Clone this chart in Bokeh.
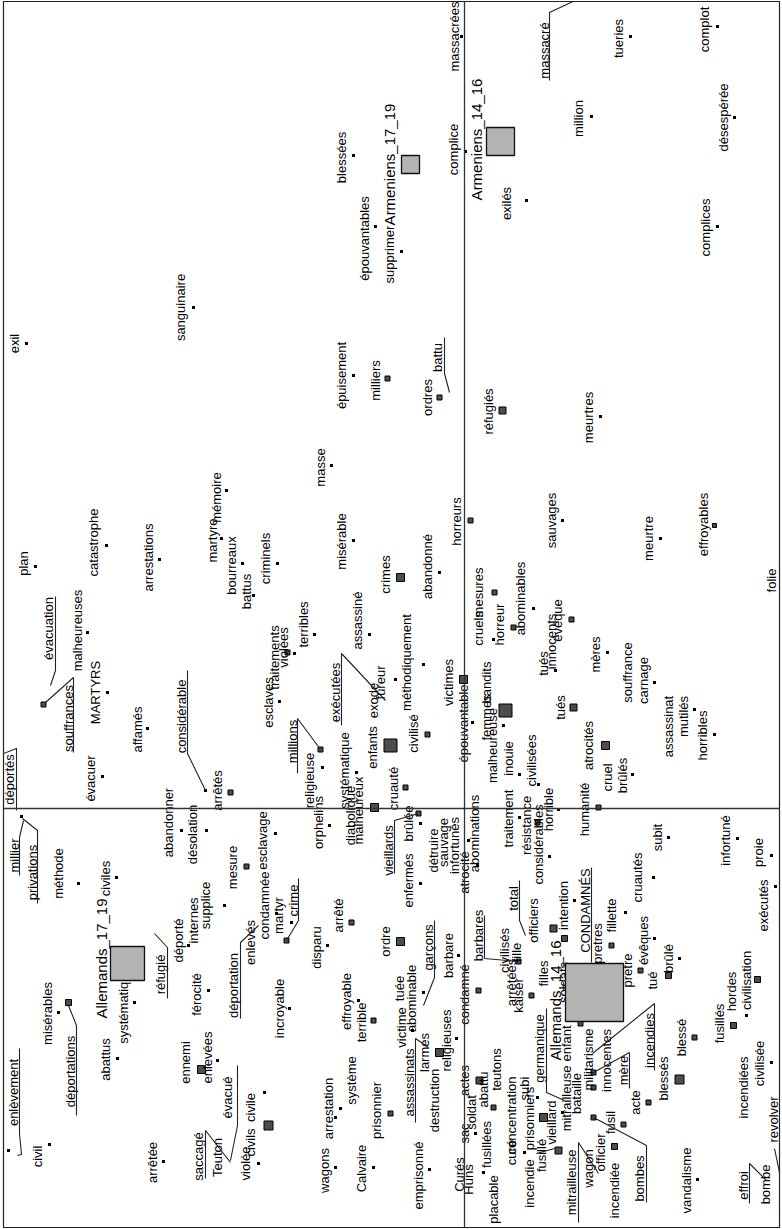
import math
from bokeh.plotting import figure
from bokeh.models import Range1d, Span, ColumnDataSource
from bokeh.core.properties import value
from bokeh.embed import file_html
from bokeh.resources import INLINE

# ---- word points of the factor map (rotated layout: read upward) ----
mots = [
    "massacrées", "blessées", "épouvantables", "supprimer", "complice", "exilés", "massacré", "tueries", "complot", "million",
    "désespérée", "complices", "exil", "sanguinaire", "plan", "catastrophe", "arrestations", "mémoire", "martyre", "bourreaux",
    "battus", "criminels", "épuisement", "milliers", "battu", "ordres", "masse", "misérable", "crimes", "abandonné",
    "horreurs", "réfugiés", "meurtres", "sauvages", "meurtre", "effroyables", "folie", "abominables", "mesures", "cruels",
    "horreur", "évêque", "innocents", "tués", "mères", "tués", "souffrance", "carnage", "assassinat", "mutilés",
    "horribles", "atrocités", "cruel", "brûlés", "civilisées", "humanité", "horrible", "évacuation", "souffrances", "malheureuses",
    "MARTYRS", "affamés", "évacuer", "considérable", "arrêtés", "déportés", "esclaves", "traitements", "violées", "terribles",
    "assassiné", "exécutées", "fureur", "exode", "méthodiquement", "millions", "religieuse", "systématique", "enfants", "civilisé",
    "cruauté", "diabolique", "malheureux", "orphelins", "vieillards", "brûlée", "enfermés", "détruire", "sauvage", "infortunés",
    "atrocité", "abominations", "victimes", "épouvantable", "femmes", "bandits", "malheureuse", "inouie", "traitement", "millier",
    "privations", "méthode", "civiles", "abandonner", "désolation", "mesure", "esclavage", "internes", "supplice", "condamnée",
    "martyr", "crime", "enlevés", "déportation", "déporté", "férocité", "réfugié", "systématique", "abattus", "misérables",
    "déportations", "enlèvement", "civil", "arrêtée", "ennemi", "enlevées", "évacué", "saccagé", "Teuton", "civile",
    "civils", "violée", "incroyable", "disparu", "arrêté", "ordre", "effroyable", "terrible", "garçons", "tuée",
    "abominable", "victime", "barbare", "condamné", "larmes", "assassinats", "religieuses", "destruction", "système", "arrestation",
    "wagons", "Calvaire", "prisonnier", "emprisonné", "actes", "sac", "Curés", "Huns", "soldat", "abattu",
    "teutons", "concentration", "fusillées", "curé", "placable", "arrêtées", "kaiser", "civilisés", "barbares", "total",
    "fille", "officiers", "considérables", "résistance", "intention", "CONDAMNÉS", "fillette", "pretres", "cruautés", "subit",
    "infortuné", "proie", "exécutés", "évêques", "brûlé", "pretre", "tué", "filles", "soldats", "germanique",
    "enfant", "militarisme", "mitrailleuse", "vieillard", "prisonniers", "subi", "bataille", "innocentes", "incendies", "mère",
    "acte", "blessés", "blessé", "fusillés", "hordes", "civilisation", "incendiées", "civilisée", "revolver", "vandalisme",
    "effroi", "bombe", "bombes", "fusil", "officier", "incendiée", "wagon", "mitrailleuse", "incendie", "fusillé",
]

pt_x = [
    461, 353, 375, 401, 465, 526, 600, 630, 717, 591,
    734, 717, 26, 193, 35, 106, 159, 226, 221, 242,
    253, 277, 353, 387, 449, 439, 331, 353, 400, 439,
    470, 502, 600, 562, 660, 714, 785, 533, 494, 493,
    513, 571, 563, 555, 607, 573, 654, 654, 694, 694,
    714, 605, 632, 632, 538, 598, 558, 43, 43, 87,
    107, 147, 102, 205, 230, -10, 279, 287, 294, 314,
    369, 385, 395, 395, 423, 320, 322, 356, 390, 427,
    405, 374, 374, 329, 418, 420, 420, 477, 477, 477,
    477, 468, 463, 472, 505, 505, 503, 519, 519, 21,
    21, 78, 116, 181, 206, 246, 275, 206, 224, 276,
    291, 286, 258, 258, 188, 208, 154, 134, 117, 58,
    68, 8, 49, 163, 201, 217, 230, 230, 230, 264,
    268, 258, 289, 327, 351, 400, 358, 373, 423, 411,
    423, 412, 458, 478, 439, 428, 456, 446, 340, 335,
    335, 373, 390, 429, 475, 475, 470, 483, 475, 479,
    493, 493, 493, 511, 483, 518, 518, 518, 518, 525,
    525, 553, 549, 537, 574, 597, 625, 611, 653, 668,
    737, 771, 775, 654, 679, 640, 668, 531, 564, 564,
    580, 600, 562, 543, 537, 537, 593, 618, 592, 593,
    648, 679, 694, 733, 757, 746, 755, 771, 779, 697,
    766, 766, 593, 623, 614, 626, 598, 578, 524, 558,
]

pt_y = [
    36, 155, 226, 251, 151, 200, -12, 36, 26, 116,
    117, 226, 343, 307, 566, 545, 559, 490, 538, 563,
    595, 563, 375, 378, 392, 397, 465, 540, 577, 572,
    520, 410, 416, 520, 538, 525, 580, 608, 592, 639,
    627, 619, 645, 670, 652, 707, 682, 682, 709, 709,
    734, 745, 774, 774, 784, 807, 809, 704, 704, 632,
    692, 728, 776, 790, 792, 756, 701, 652, 653, 634,
    634, 700, 679, 679, 664, 749, 767, 772, 745, 734,
    787, 807, 807, 825, 813, 823, 883, 865, 865, 865,
    865, 840, 679, 722, 710, 710, 725, 774, 817, 816,
    816, 883, 877, 830, 830, 866, 833, 925, 905, 913,
    922, 940, 925, 925, 945, 990, 933, 1002, 1058, 1012,
    1002, 1150, 1144, 1161, 1069, 1060, 1162, 1162, 1162, 1092,
    1125, 1163, 1008, 945, 922, 941, 1000, 1020, 1005, 988,
    992, 1030, 955, 990, 1052, 1047, 1038, 1100, 1108, 1117,
    1167, 1167, 1113, 1169, 1080, 1133, 1174, 1172, 1133, 1080,
    1107, 1107, 1107, 1152, 1172, 961, 961, 961, 961, 935,
    935, 928, 856, 822, 900, 962, 912, 945, 877, 837,
    838, 855, 886, 938, 958, 970, 975, 995, 938, 1100,
    1023, 1060, 1112, 1117, 1097, 1097, 1087, 1060, 1053, 1072,
    1102, 1079, 1037, 1025, 979, 1015, 1087, 1062, 1172, 1179,
    1180, 1180, 1117, 1124, 1146, 1190, 1173, 1142, 1152, 1150,
]

# weight of each word (0 = point hidden under another one)
poids = [
    3, 3, 3, 3, 3, 3, 0, 3, 3, 3,
    3, 3, 3, 3, 3, 3, 3, 3, 3, 3,
    3, 3, 3, 5, 0, 5, 3, 3, 8, 3,
    5, 7, 3, 3, 3, 4, 3, 3, 5, 3,
    5, 5, 0, 3, 3, 7, 0, 3, 0, 3,
    3, 8, 0, 3, 3, 5, 3, 0, 5, 3,
    3, 3, 3, 3, 5, 0, 3, 5, 3, 3,
    3, 0, 3, 0, 3, 5, 3, 3, 13, 5,
    5, 8, 0, 3, 5, 3, 3, 0, 0, 0,
    3, 3, 8, 3, 13, 0, 3, 3, 3, 0,
    3, 3, 3, 3, 3, 5, 3, 0, 3, 3,
    3, 5, 0, 0, 3, 3, 0, 3, 3, 3,
    6, 3, 3, 3, 8, 3, 0, 0, 0, 3,
    9, 3, 3, 3, 5, 8, 3, 5, 0, 0,
    3, 3, 3, 5, 8, 0, 3, 0, 3, 3,
    3, 3, 5, 3, 0, 0, 0, 0, 3, 7,
    0, 0, 5, 0, 3, 0, 0, 0, 5, 0,
    0, 7, 3, 5, 3, 0, 3, 5, 3, 3,
    3, 3, 3, 3, 3, 5, 6, 5, 6, 0,
    5, 0, 3, 8, 3, 0, 5, 0, 0, 5,
    5, 9, 5, 6, 6, 3, 0, 3, 0, 3,
    0, 0, 5, 5, 6, 0, 0, 0, 3, 7,
]

# label anchors (centre of each rotated word)
lab_x = [
    454, 341, 364, 389, 453, 506, 544, 618, 704, 578,
    723, 705, 14, 180, 23, 93, 148, 216, 212, 231,
    246, 265, 341, 375, 437, 427, 320, 341, 385, 427,
    456, 488, 588, 551, 648, 703, 771, 520, 478, 478,
    499, 557, 551, 543, 595, 560, 627, 643, 668, 683,
    702, 588, 607, 622, 531, 584, 548, 48, 68, 77,
    95, 137, 90, 181, 217, 9, 268, 274, 283, 303,
    357, 335, 380, 373, 406, 292, 309, 344, 372, 413,
    393, 350, 358, 318, 388, 408, 408, 433, 443, 454,
    464, 474, 448, 463, 486, 486, 492, 508, 508, 14,
    32, 58, 105, 168, 192, 232, 262, 193, 205, 264,
    278, 293, 250, 233, 178, 196, 160, 123, 105, 47,
    70, 13, 37, 152, 185, 207, 227, 198, 217, 250,
    250, 245, 279, 316, 338, 385, 346, 361, 428, 399,
    411, 401, 448, 464, 424, 409, 446, 434, 351, 328,
    324, 361, 376, 418, 464, 464, 459, 468, 471, 483,
    496, 511, 486, 511, 493, 511, 518, 504, 478, 513,
    516, 533, 538, 526, 563, 585, 611, 597, 637, 657,
    725, 758, 763, 643, 668, 627, 652, 543, 563, 539,
    566, 588, 566, 551, 529, 524, 576, 606, 649, 623,
    635, 663, 681, 719, 731, 746, 743, 759, 773, 686,
    743, 765, 639, 610, 600, 614, 588, 571, 529, 541,
]

lab_y = [
    36, 157, 238, 254, 149, 203, 50, 38, 29, 118,
    117, 227, 343, 307, 563, 542, 557, 497, 540, 565,
    591, 558, 375, 380, 357, 397, 467, 541, 574, 566,
    521, 411, 417, 520, 538, 524, 580, 598, 592, 628,
    624, 620, 641, 663, 654, 707, 672, 680, 726, 716,
    735, 745, 777, 775, 760, 809, 809, 628, 718, 630,
    692, 729, 778, 716, 790, 779, 702, 657, 647, 624,
    620, 692, 682, 700, 662, 741, 780, 770, 747, 733,
    788, 815, 810, 822, 850, 823, 880, 850, 842, 845,
    872, 833, 682, 723, 717, 682, 745, 758, 818, 855,
    872, 873, 878, 822, 834, 867, 840, 920, 905, 905,
    915, 900, 942, 985, 940, 994, 974, 1005, 1059, 1013,
    1071, 1092, 1156, 1162, 1062, 1057, 1097, 1156, 1157, 1107,
    1142, 1163, 1008, 947, 915, 941, 1001, 1022, 947, 988,
    998, 1027, 955, 994, 1052, 1082, 1040, 1100, 1080, 1108,
    1170, 1168, 1110, 1175, 1080, 1133, 1174, 1179, 1112, 1089,
    1069, 1115, 1144, 1152, 1199, 982, 995, 950, 935, 898,
    952, 920, 844, 825, 905, 910, 915, 943, 877, 837,
    840, 852, 905, 940, 958, 970, 980, 973, 982, 1048,
    1043, 1059, 1098, 1122, 1118, 1088, 1093, 1060, 1040, 1070,
    1102, 1078, 1037, 1023, 991, 980, 1087, 1063, 1119, 1180,
    1185, 1184, 1178, 1122, 1152, 1190, 1168, 1182, 1183, 1155,
]

# ---- column categories (corpus parts) ----
groupes = ["Armeniens_17_19", "Armeniens_14_16", "Allemands_17_19", "Allemands_14_16"]
grp_x = [410, 500, 127, 594]
grp_y = [164, 141, 963, 992]
grp_masse = [18, 28, 34, 58]
grp_lab_x = [389, 476, 101, 555]
grp_lab_y = [164, 139, 958, 1000]

# ---- leader lines for displaced labels (underline + link to point) ----
lead_x = [
    [549, 549, 600], [444, 444, 449], [55, 55, 50], [73, 73, 45], [187, 187, 205],
    [16, 16, -2], [341, 341, 385], [297, 297, 320], [394, 394, 418], [19, 19, 23],
    [37, 37, 22], [298, 298, 286], [240, 240, 258], [167, 167, 154], [76, 76, 68],
    [19, 19, 21, 17], [237, 237, 230], [205, 205, 230], [434, 434, 423], [415, 415, 428],
    [484, 484, 518], [519, 519, 525], [591, 591], [546, 546, 564], [654, 654, 592],
    [629, 629, 593], [749, 749, 766], [646, 646, 593], [578, 598], [578, 578],
    [774, 779], [536, 554],
]
lead_y = [
    [80, 12, -12], [337, 373, 392], [596, 670, 685], [752, 677, 702], [670, 753, 790],
    [810, 748, 755], [725, 653, 700], [773, 718, 749], [873, 820, 813], [875, 837, 820],
    [903, 830, 818], [878, 920, 940], [1018, 942, 925], [998, 947, 933], [1115, 1025, 1005],
    [1048, 1133, 1154, 1155], [1065, 1125, 1160], [1178, 1130, 1162], [920, 977, 1005], [1122, 1038, 1047],
    [915, 958, 961], [880, 920, 935], [867, 962], [1008, 1092, 1100], [1070, 1003, 1053],
    [1088, 1052, 1072], [1203, 1163, 1180], [1202, 1145, 1117], [1142, 1173], [1222, 1142],
    [1148, 1172], [1153, 1148],
]

# axes of the factor map cross here
origine_x = 464
origine_y = 808

n = len(mots)
assert all(len(a) == n for a in (pt_x, pt_y, poids, lab_x, lab_y))

W, H = 782, 1229
p = figure(
    width=W, height=H, output_backend="svg", toolbar_location=None,
    x_range=Range1d(3, 779), y_range=Range1d(1227, 1),
    min_border_left=3, min_border_right=3, min_border_top=1, min_border_bottom=2,
    background_fill_color="white", border_fill_color="white",
)
p.xaxis.visible = False
p.yaxis.visible = False
p.grid.visible = False
p.outline_line_color = "#222222"
p.outline_line_width = 1.2

p.add_layout(Span(location=origine_x, dimension="height", line_color="#333333", line_width=1.3))
p.add_layout(Span(location=origine_y, dimension="width", line_color="#333333", line_width=1.3))

# small word points and weighted word points
small = [i for i in range(n) if poids[i] == 3]
heavy = [i for i in range(n) if poids[i] > 3]

src_small = ColumnDataSource(dict(x=[pt_x[i] for i in small], y=[pt_y[i] for i in small]))
p.scatter("x", "y", source=src_small, marker="square", size=3, fill_color="black", line_color=None)

src_heavy = ColumnDataSource(dict(
    x=[pt_x[i] for i in heavy], y=[pt_y[i] for i in heavy], s=[poids[i] for i in heavy]))
p.scatter("x", "y", source=src_heavy, marker="square", size="s",
          fill_color="#4d4d4d", line_color="black", line_width=1)

# word labels
src_lab = ColumnDataSource(dict(x=lab_x, y=lab_y, t=mots))
p.text("x", "y", text="t", source=src_lab, angle=math.pi / 2,
       text_align="center", text_baseline="middle",
       text_font=value("Liberation Sans"), text_font_size="13px", text_color="black")

p.multi_line(lead_x, lead_y, line_color="#222222", line_width=1.1)

# category squares and labels
src_grp = ColumnDataSource(dict(x=grp_x, y=grp_y, s=grp_masse))
p.scatter("x", "y", source=src_grp, marker="square", size="s",
          fill_color="#b3b3b3", line_color="#111111", line_width=1.3)
src_glab = ColumnDataSource(dict(x=grp_lab_x, y=grp_lab_y, t=groupes))
p.text("x", "y", text="t", source=src_glab, angle=math.pi / 2,
       text_align="center", text_baseline="middle",
       text_font=value("Liberation Sans"), text_font_size="15px", text_color="black")

open("out.html", "w").write(file_html(p, INLINE))
